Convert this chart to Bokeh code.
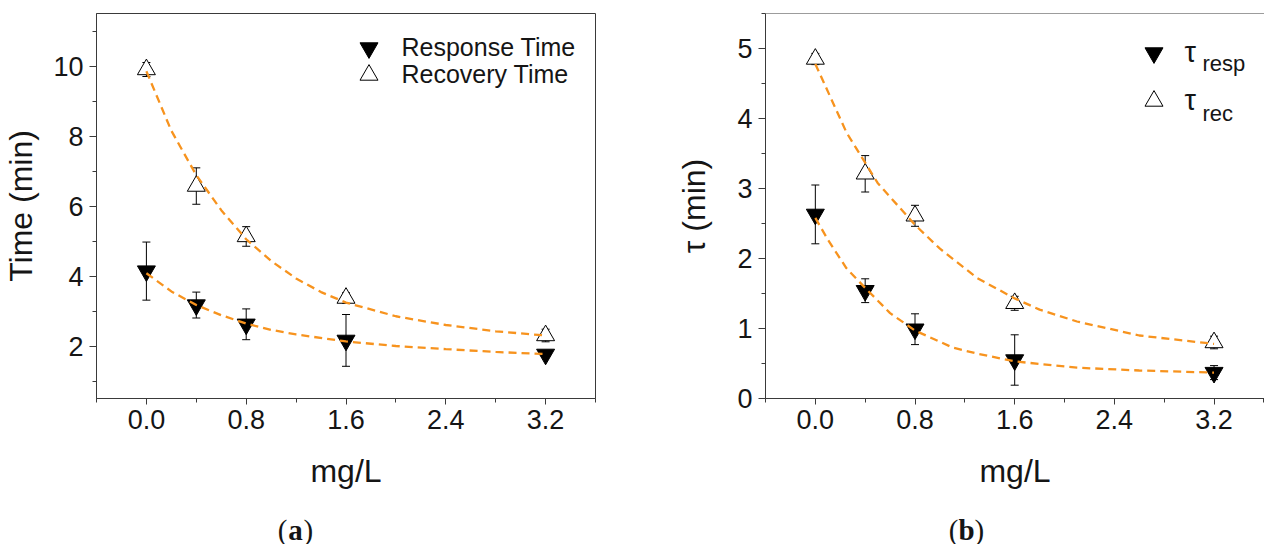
from bokeh.plotting import figure
from bokeh.models import (ColumnDataSource, Range1d, SingleIntervalTicker, NumeralTickFormatter,
                          Whisker, TeeHead, Legend, LegendItem, Label, Span)
from bokeh.layouts import row, column
from bokeh.embed import file_html
from bokeh.resources import INLINE

# ---------------- data ----------------
conc = [0.0, 0.4, 0.8, 1.6, 3.2]
x_label = "mg/L"

# panel (a)
a_resp = [4.14, 3.17, 2.62, 2.16, 1.76]
a_resp_err = [0.83, 0.37, 0.44, 0.74, 0.08]
a_rec = [9.90, 6.57, 5.13, 3.37, 2.30]
a_rec_err = [0.20, 0.52, 0.28, 0.15, 0.18]
a_resp_fit_x = [0.0, 0.2, 0.4, 0.6, 0.8, 1.0, 1.2, 1.6, 2.0, 2.4, 2.8, 3.2]
a_resp_fit_y = [4.08, 3.56, 3.17, 2.88, 2.64, 2.46, 2.33, 2.13, 2.00, 1.91, 1.83, 1.77]
a_rec_fit_x = [0.0, 0.2, 0.4, 0.6, 0.8, 1.0, 1.2, 1.4, 1.6, 2.0, 2.4, 2.8, 3.2]
a_rec_fit_y = [9.85, 8.15, 6.88, 5.88, 5.05, 4.43, 3.93, 3.54, 3.24, 2.85, 2.60, 2.42, 2.30]

# panel (b)
b_resp = [2.63, 1.54, 0.99, 0.55, 0.37]
b_resp_err = [0.42, 0.17, 0.22, 0.36, 0.10]
b_rec = [4.85, 3.21, 2.61, 1.36, 0.80]
b_rec_err = [0.08, 0.26, 0.15, 0.10, 0.09]
b_resp_fit_x = [0.0, 0.1, 0.25, 0.4, 0.6, 0.8, 1.1, 1.3, 1.6, 2.1, 2.6, 3.2]
b_resp_fit_y = [2.58, 2.27, 1.86, 1.58, 1.22, 0.97, 0.73, 0.64, 0.53, 0.44, 0.40, 0.37]
b_rec_fit_x = [0.0, 0.25, 0.5, 0.8, 1.0, 1.3, 1.6, 1.8, 2.1, 2.6, 3.2]
b_rec_fit_y = [4.78, 3.80, 3.08, 2.48, 2.14, 1.72, 1.43, 1.27, 1.10, 0.90, 0.78]

FONT = "Liberation Sans"
SERIF = "Liberation Serif"
AXIS = "#3a3a3a"
TXT = "#151515"
ORANGE = "#F7931E"


def make_panel(width, height, bl, bt, br, bb, xr, yr, y_interval, ylabel,
               ylabel_standoff, outline):
    p = figure(width=width, height=height, x_range=Range1d(*xr), y_range=Range1d(*yr),
               output_backend="svg", toolbar_location=None,
               min_border_left=bl, min_border_top=bt, min_border_right=br,
               min_border_bottom=bb)
    p.grid.visible = False
    p.background_fill_color = "white"
    p.border_fill_color = "white"
    if outline:
        p.outline_line_color = AXIS
        p.outline_line_width = 1
        p.outline_line_alpha = 1
    else:
        p.outline_line_color = None

    p.xaxis.ticker = SingleIntervalTicker(interval=0.8, num_minor_ticks=2)
    p.xaxis.formatter = NumeralTickFormatter(format="0.0")
    p.yaxis.ticker = SingleIntervalTicker(interval=y_interval, num_minor_ticks=2)
    for ax in (p.xaxis[0], p.yaxis[0]):
        ax.axis_line_color = AXIS
        ax.axis_line_width = 1
        ax.major_tick_line_color = AXIS
        ax.minor_tick_line_color = AXIS
        ax.major_tick_in = 0
        ax.minor_tick_in = 0
        ax.major_tick_out = 7
        ax.minor_tick_out = 4
        ax.major_label_text_font = FONT
        ax.major_label_text_font_size = "27px"
        ax.major_label_text_color = TXT
        ax.axis_label_text_font = FONT
        ax.axis_label_text_font_size = "32px"
        ax.axis_label_text_font_style = "normal"
        ax.axis_label_text_color = TXT
    p.xaxis.major_tick_out = 6
    p.xaxis.major_label_standoff = 5
    p.xaxis.axis_label = x_label
    p.xaxis.axis_label_standoff = 21
    p.yaxis.axis_label = ylabel
    p.yaxis.major_label_standoff = 6
    p.yaxis.axis_label_standoff = ylabel_standoff
    return p


def add_series(p, resp, resp_err, rec, rec_err, resp_fit, rec_fit):
    s_resp = ColumnDataSource(dict(x=conc, y=resp,
                                   upper=[v + e for v, e in zip(resp, resp_err)],
                                   lower=[v - e for v, e in zip(resp, resp_err)]))
    s_rec = ColumnDataSource(dict(x=conc, y=rec,
                                  upper=[v + e for v, e in zip(rec, rec_err)],
                                  lower=[v - e for v, e in zip(rec, rec_err)]))
    for s in (s_resp, s_rec):
        w = Whisker(base="x", upper="upper", lower="lower", source=s,
                    line_color="black", line_width=1,
                    upper_head=TeeHead(size=8, line_color="black", line_width=1),
                    lower_head=TeeHead(size=8, line_color="black", line_width=1))
        p.add_layout(w)
    r_resp = p.scatter("x", "y", source=s_resp, marker="inverted_triangle", size=18,
                       fill_color="black", line_color="black", line_width=1)
    r_rec = p.scatter("x", "y", source=s_rec, marker="triangle", size=18,
                      fill_color="white", line_color="black", line_width=1)
    for fx, fy in (resp_fit, rec_fit):
        p.line(fx, fy, line_color=ORANGE, line_width=2.3, line_dash="8 5")
    return r_resp, r_rec


def one_legend(p, renderer, label, loc, standoff, size):
    leg = Legend(items=[LegendItem(label=label, renderers=[renderer])], location=loc,
                 glyph_width=45, glyph_height=45, label_standoff=standoff,
                 padding=0, margin=0, spacing=0, border_line_color=None,
                 background_fill_alpha=0, label_text_font=FONT,
                 label_text_font_size=size, label_text_color=TXT)
    p.add_layout(leg)


def caption(p, cx, cy, letter):
    p.add_layout(Label(x=cx - 8, y=cy, x_units="screen", y_units="screen", text="(",
                       text_align="right", text_baseline="middle", text_font=SERIF,
                       text_font_size="29px", text_color=TXT))
    p.add_layout(Label(x=cx, y=cy, x_units="screen", y_units="screen", text=letter,
                       text_align="center", text_baseline="middle", text_font=SERIF,
                       text_font_style="bold", text_font_size="29px", text_color=TXT))
    p.add_layout(Label(x=cx + 8, y=cy, x_units="screen", y_units="screen", text=")",
                       text_align="left", text_baseline="middle", text_font=SERIF,
                       text_font_size="29px", text_color=TXT))


# ---------------- panel (a) ----------------
pa = make_panel(640, 500, 94, 13, 45, 102, (-0.4, 3.6), (0.5, 11.5), 2, "Time (min)", 11, True)
ra1, ra2 = add_series(pa, a_resp, a_resp_err, a_rec, a_rec_err,
                      (a_resp_fit_x, a_resp_fit_y), (a_rec_fit_x, a_rec_fit_y))
one_legend(pa, ra1, "Response Time", (249.5, 328.5), 11, "25px")
one_legend(pa, ra2, "Recovery Time", (249.5, 301.5), 11, "25px")

# ---------------- panel (b) ----------------
b_yr = (0.0, 5.5)
pb = make_panel(624, 500, 125, 10, 0, 102, (-0.4, 3.605), b_yr, 1, "τ (min)", 22, False)
pb.add_layout(Span(location=b_yr[1], dimension="width", line_color=AXIS, line_width=1))
rb1, rb2 = add_series(pb, b_resp, b_resp_err, b_rec, b_rec_err,
                      (b_resp_fit_x, b_resp_fit_y), (b_rec_fit_x, b_rec_fit_y))
one_legend(pb, rb1, "τ", (365.5, 323.5), 9, "29px")
one_legend(pb, rb2, "τ", (365.5, 275.5), 9, "29px")
for sub, sy in (("resp", 335), ("rec", 285)):
    pb.add_layout(Label(x=437, y=sy, x_units="screen", y_units="screen", text=sub,
                        text_align="left", text_baseline="middle", text_font=FONT,
                        text_font_size="22px", text_color=TXT))

# ---------------- caption strip ----------------
pc = figure(width=1264, height=44, x_range=Range1d(0, 1), y_range=Range1d(0, 1),
            output_backend="svg", toolbar_location=None, x_axis_type=None, y_axis_type=None,
            min_border=0)
pc.grid.visible = False
pc.outline_line_color = None
caption(pc, 295, 15, "a")
caption(pc, 966, 15, "b")

layout = column(row(pa, pb), pc)
open("out.html", "w").write(file_html(layout, INLINE))
